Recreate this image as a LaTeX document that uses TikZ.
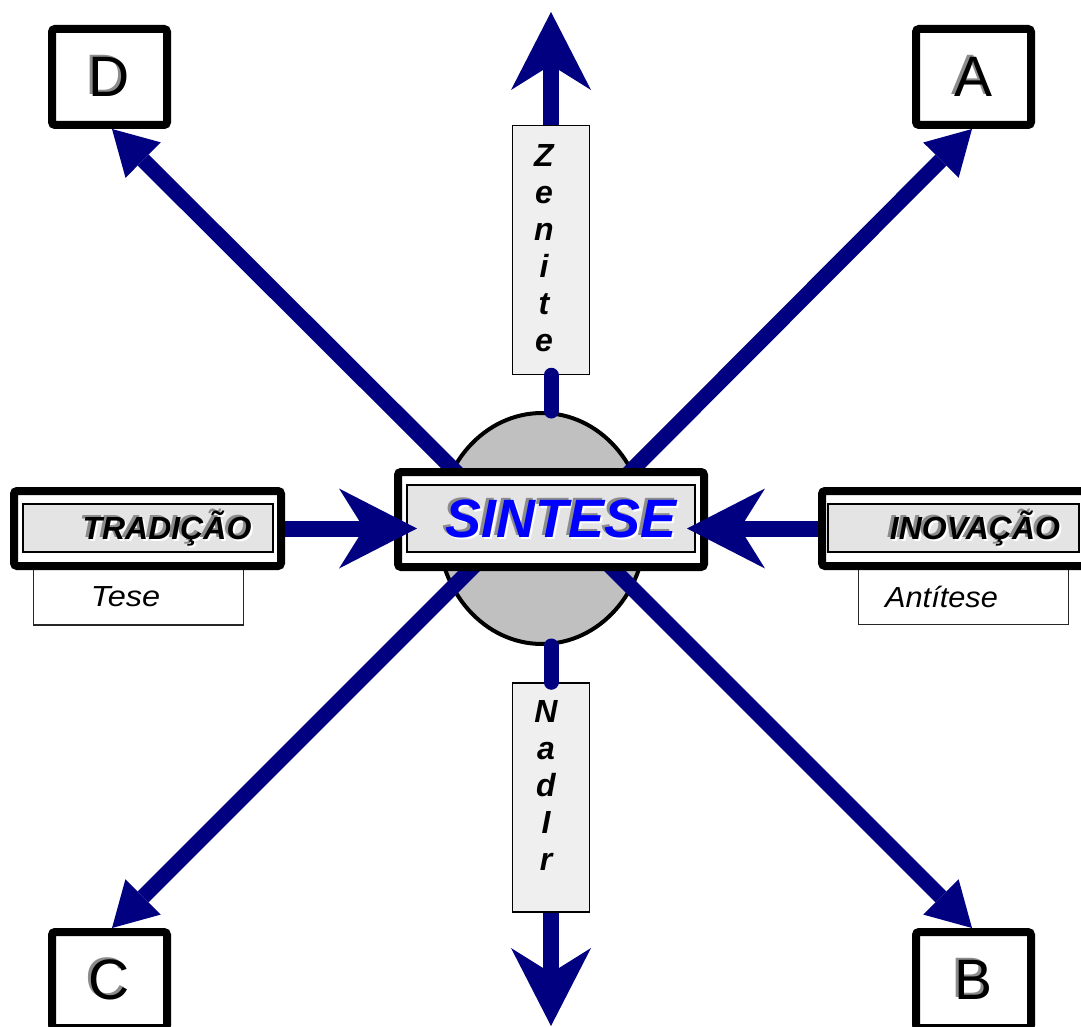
\documentclass[tikz,border=0pt]{standalone}
\usepackage{fontspec}
\setmainfont{Liberation Sans}
\usetikzlibrary{arrows.meta,shapes.geometric}
\definecolor{navyarrow}{HTML}{000080}
\definecolor{sinteseblue}{HTML}{0000FF}
\definecolor{boxgray}{HTML}{E4E4E4}
\definecolor{ellgray}{HTML}{C0C0C0}
\definecolor{shadowgray}{HTML}{8C8C8C}
\definecolor{labelgray}{HTML}{EFEFEF}
\newcommand{\shadowed}[1]{\rlap{\kern2pt\raisebox{-2pt}{\textcolor{white}{#1}}}\rlap{\kern-3pt\raisebox{2pt}{\textcolor{shadowgray}{#1}}}#1}
\begin{document}
\begin{tikzpicture}[x=1pt,y=-1pt,
  cornerbox/.style={draw=black, line width=8pt, rounded corners=3pt, fill=white,
    minimum width=115pt, minimum height=96pt, inner sep=0pt,
    font=\fontsize{57}{60}\selectfont},
  thickbox/.style={draw=black, line width=8pt, rounded corners=3pt, fill=white, inner sep=0pt},
  innerbox/.style={draw=black, line width=1.5pt, fill=boxgray, inner sep=0pt},
  labelbox/.style={draw=black, line width=1.5pt, fill=labelgray, inner sep=0pt},
  subbox/.style={draw=black!85, line width=1.2pt, fill=white, inner sep=0pt,
    minimum width=210pt, minimum height=58pt},
  diagarrow/.style={draw=navyarrow, line width=15.5pt,
    -{Triangle[length=44pt,width=50pt,line width=0pt]}},
  straightarrow/.style={draw=navyarrow, line width=16pt,
    -{Stealth[length=78pt,width=80pt,inset=25pt,line width=0pt]}},
  stub/.style={draw=navyarrow, line width=15pt, line cap=round},
  vtext/.style={align=center, inner sep=0pt, font=\fontsize{32}{37}\selectfont\bfseries\itshape},
  sidetext/.style={inner sep=0pt, anchor=base, font=\fontsize{32}{34}\selectfont\bfseries\itshape},
  subtext/.style={inner sep=0pt, anchor=base, font=\fontsize{29}{30}\selectfont\itshape}
]
\useasboundingbox (0,0) rectangle (1081,1027);

% corner boxes
\node[cornerbox] (dbox) at (109.5,77) {\shadowed{D}};
\node[cornerbox] (abox) at (973.5,77) {\shadowed{A}};
\node[cornerbox] (cbox) at (109.5,980) {\shadowed{C}};
\node[cornerbox] (bbox) at (973.5,980) {\shadowed{B}};

% sub boxes (behind the thick side boxes)
\node[subbox] (tesebox) at (138.5,596) {};
\node[subbox] (antibox) at (963.5,595.5) {};

% central ellipse
\node[ellipse, draw=black, line width=4pt, fill=ellgray, inner sep=0pt,
  minimum width=207pt, minimum height=231pt] (ell) at (542,528.5) {};

% diagonal arrows
\coordinate (dfoot) at (470,486);
\coordinate (afoot) at (616,486);
\coordinate (cfoot) at (480,560);
\coordinate (bfoot) at (604,560);
\draw[diagarrow] (dfoot) -- ([xshift=2.5pt]dbox.south);
\draw[diagarrow] (afoot) -- ([xshift=-1.5pt]abox.south);
\draw[diagarrow] (cfoot) -- ([xshift=2.5pt]cbox.north);
\draw[diagarrow] (bfoot) -- ([xshift=-1.5pt]bbox.north);

% zenite / nadir boxes
\node[labelbox, minimum width=77pt, minimum height=249pt] (zenbox) at (551,250) {};
\node[labelbox, minimum width=77pt, minimum height=229pt] (nadbox) at (551,797.5) {};
\draw[stub] (zenbox.south) -- (zenbox.south |- ell.north);
\draw[stub] (nadbox.north |- ell.south) -- (nadbox.north);

% central box
\node[thickbox, minimum width=306pt, minimum height=95pt] (sintese) at (551,519.5) {};
\node[innerbox, minimum width=288pt, minimum height=67pt] (sinteseinner) at (551,518.5) {};
\node[inner sep=0pt, text=sinteseblue, font=\fontsize{54}{60}\selectfont\bfseries\itshape]
  (sintesetext) at (561,519) {\shadowed{SINTESE}};

% side boxes
\node[thickbox, minimum width=267pt, minimum height=75pt] (trad) at (147.5,528.5) {};
\node[innerbox, minimum width=250pt, minimum height=48pt] (tradinner) at (148,528) {};
\node[sidetext] (tradtext) at (167,539) {\shadowed{TRADIÇÃO}};
\node[thickbox, minimum width=267pt, minimum height=75pt] (inov) at (955.5,528.5) {};
\node[innerbox, minimum width=251pt, minimum height=48pt] (inovinner) at (953.5,528) {};
\node[sidetext] (inovtext) at (975,539) {\shadowed{INOVAÇÃO}};

\node[subtext] (tesetext) at (125.5,606) {\scalebox{1.12}[1]{Tese}};
\node[subtext] (antitext) at (941.5,607) {\scalebox{1.06}[1]{Antítese}};

% horizontal arrows
\coordinate (ltip) at (417,528.5);
\coordinate (rtip) at (687,528.5);
\draw[straightarrow] (trad.east) -- (ltip);
\draw[straightarrow] (inov.west) -- (rtip);

% vertical arrows
\coordinate (zentip) at (551,12);
\coordinate (nadtip) at (551,1026);
\draw[straightarrow] (zenbox.north) -- (zentip);
\draw[straightarrow] (nadbox.south) -- (nadtip);

\node[vtext] (zentext) at (544,248) {Z\\e\\n\\i\\t\\e};
\node[vtext] (nadtext) at (546,785) {N\\a\\d\\I\\r};
\end{tikzpicture}
\end{document}
